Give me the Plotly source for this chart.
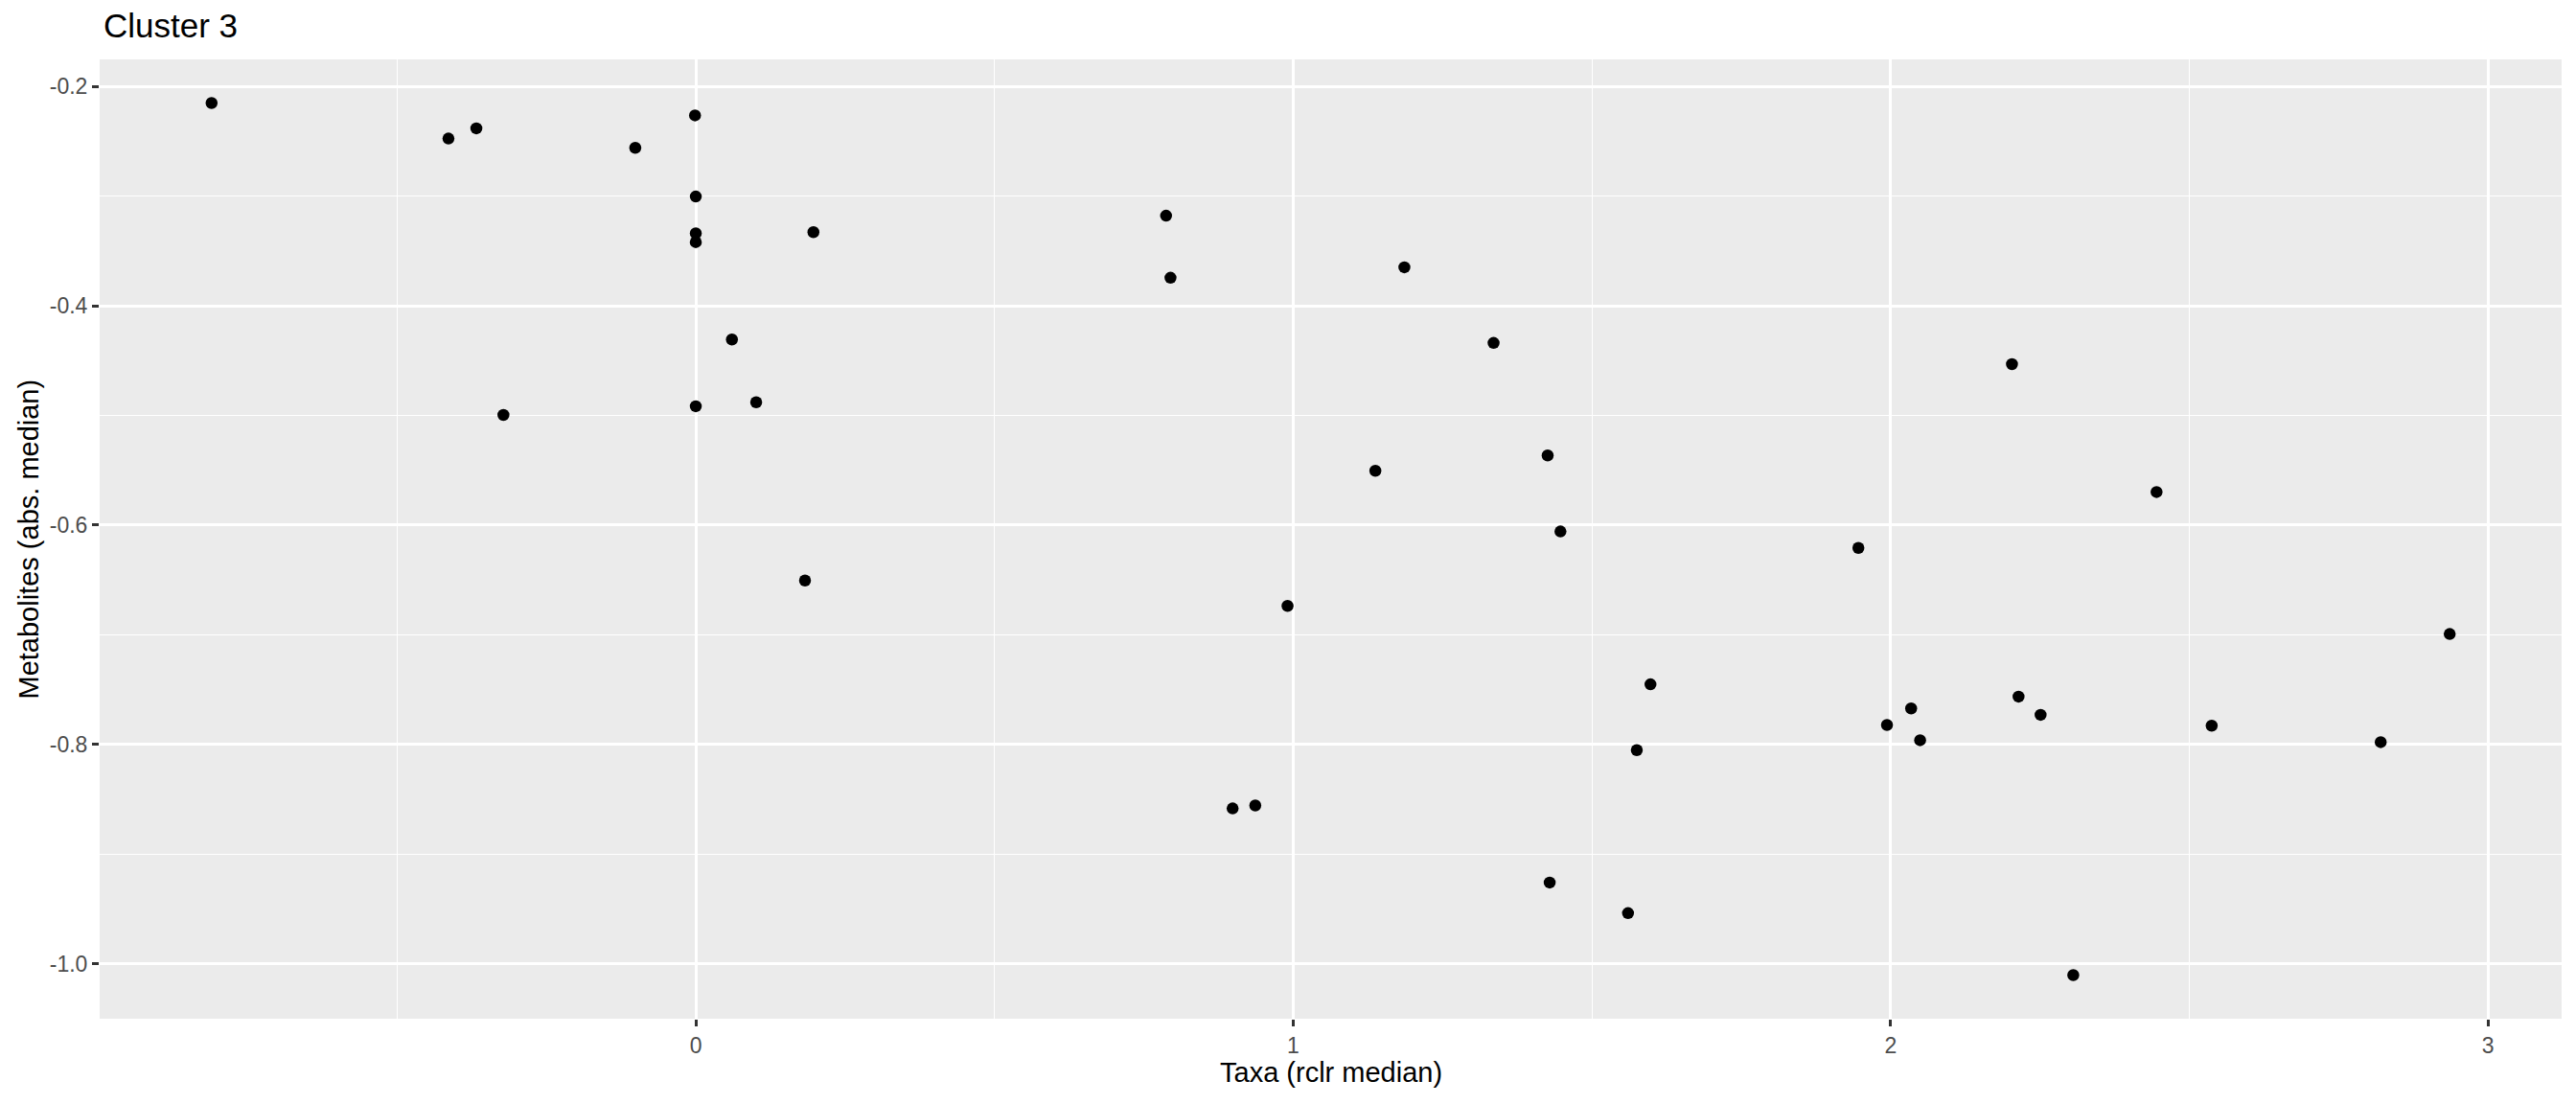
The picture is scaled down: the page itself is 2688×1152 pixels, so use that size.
import plotly.graph_objects as go

# Data
taxa_rclr_median = [
    -0.8105, -0.4140, -0.3673, -0.1013, -0.0013, 0.0, 0.0, 0.0, -0.3220, 0.0,
    0.1969, 0.7872, 0.7946, 0.0605, 0.1011,
    1.1861, 1.3354, 1.1375, 1.4259, 1.4473,
    2.2031, 2.4451,
    0.1828, 0.9905, 0.8986, 0.9365,
    1.9460, 1.5980, 2.0343, 1.9939, 2.0493, 1.5751, 1.4293, 1.5604,
    2.9358, 2.2141, 2.2510, 2.5374, 2.8203, 2.3057,
]
metabolites_abs_median = [
    -0.2150, -0.2474, -0.2381, -0.2559, -0.2263, -0.3003, -0.3338, -0.3419, -0.4995, -0.4916,
    -0.3328, -0.3178, -0.3744, -0.4307, -0.4879,
    -0.3648, -0.4338, -0.5504, -0.5364, -0.6058,
    -0.4532, -0.5698,
    -0.6505, -0.6737, -0.8584, -0.8557,
    -0.6208, -0.7452, -0.7672, -0.7823, -0.7962, -0.8052, -0.9260, -0.9539,
    -0.6993, -0.7564, -0.7730, -0.7829, -0.7979, -1.0104,
]
x_tick_vals = [0, 1, 2, 3]
x_tick_text = ["0", "1", "2", "3"]
y_tick_vals = [-1.0, -0.8, -0.6, -0.4, -0.2]
y_tick_text = ["-1.0", "-0.8", "-0.6", "-0.4", "-0.2"]

title_text = "Cluster 3"
x_title = "Taxa (rclr median)"
y_title = "Metabolites (abs. median)"


def expanded(vals, mult=0.05):
    lo, hi = min(vals), max(vals)
    span = hi - lo
    return [lo - mult * span, hi + mult * span]


FONT = "Liberation Sans, Arial, Helvetica, sans-serif"

fig = go.Figure(
    go.Scatter(
        x=taxa_rclr_median,
        y=metabolites_abs_median,
        mode="markers",
        marker=dict(color="black", size=12.5, line=dict(width=0)),
        showlegend=False,
        cliponaxis=False,
    )
)

# page body has an 8px margin; compensate so the panel lands where the reference has it
OFF = 8
W, H = 2688 - 2 * OFF, 1152 - 2 * OFF
ML, MR, MT, MB = 104 - OFF, 15 - OFF, 62 - OFF, 89 - OFF
PW, PH = W - ML - MR, H - MT - MB

fig.update_layout(
    width=W,
    height=H,
    margin=dict(l=ML, r=MR, t=MT, b=MB, pad=0),
    paper_bgcolor="white",
    plot_bgcolor="#EBEBEB",
    font=dict(family=FONT, color="#4D4D4D", size=23),
    showlegend=False,
)

axis_common = dict(
    showline=False,
    zeroline=False,
    showgrid=True,
    gridcolor="white",
    gridwidth=2.8,
    ticks="outside",
    ticklen=7,
    tickwidth=2.5,
    tickcolor="#333333",
    tickfont=dict(family=FONT, size=23, color="#4D4D4D"),
    automargin=False,
    minor=dict(showgrid=True, gridcolor="white", gridwidth=1.4, ticks=""),
)

fig.update_xaxes(
    range=expanded(taxa_rclr_median),
    tickmode="array",
    tickvals=x_tick_vals,
    ticktext=x_tick_text,
    minor_dtick=0.5,
    minor_tick0=0.5,
    **axis_common,
)
fig.update_yaxes(
    range=expanded(metabolites_abs_median),
    tickmode="array",
    tickvals=y_tick_vals,
    ticktext=y_tick_text,
    minor_dtick=0.2,
    minor_tick0=-0.1,
    **axis_common,
)

fig.add_annotation(
    text=title_text,
    xref="paper", yref="paper",
    x=2 / PW, y=1 + 35 / PH,
    xanchor="left", yanchor="middle",
    showarrow=False,
    font=dict(family=FONT, size=35, color="black"),
)
fig.add_annotation(
    text=x_title,
    xref="paper", yref="paper",
    x=0.5, y=-56 / PH,
    xanchor="center", yanchor="middle",
    showarrow=False,
    font=dict(family=FONT, size=29, color="black"),
)
fig.add_annotation(
    text=y_title,
    xref="paper", yref="paper",
    x=-(104 - 29) / PW, y=0.5,
    xanchor="center", yanchor="middle",
    textangle=-90,
    showarrow=False,
    font=dict(family=FONT, size=29, color="black"),
)

fig.write_html("out.html")
